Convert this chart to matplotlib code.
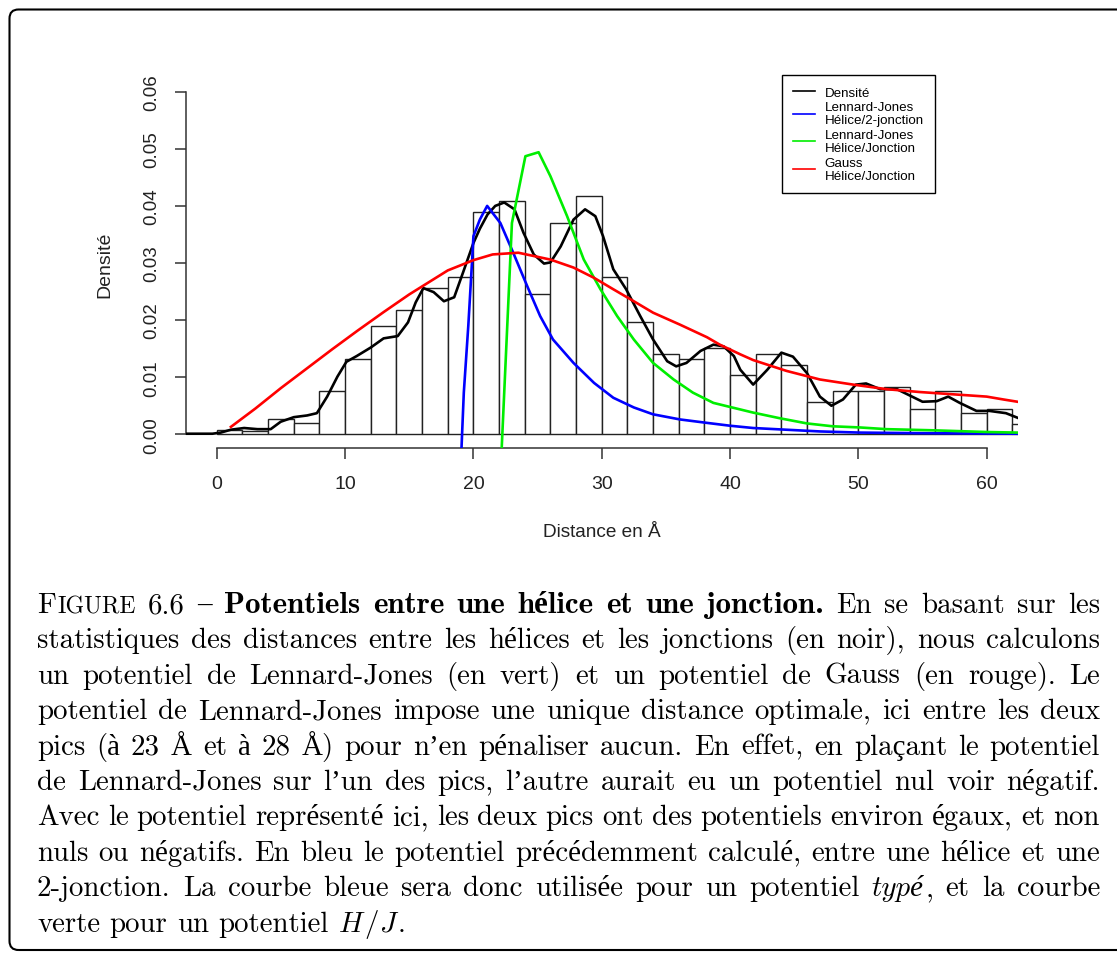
import matplotlib
matplotlib.use("Agg")
import matplotlib.pyplot as plt
from matplotlib.patches import FancyBboxPatch
from matplotlib.lines import Line2D
from matplotlib.font_manager import FontProperties
from matplotlib.transforms import IdentityTransform

# histogram of distances, bins of width 2 starting at 0
bin_left = list(range(0, 64, 2))
hist_height = [0.0008, 0.0005, 0.0027, 0.0019, 0.0076, 0.0132, 0.0189, 0.0217,
               0.0257, 0.0276, 0.0390, 0.0408, 0.0246, 0.0370, 0.0417, 0.0275,
               0.0197, 0.0141, 0.0132, 0.0152, 0.0103, 0.0141, 0.0122, 0.0057,
               0.0076, 0.0076, 0.0083, 0.0045, 0.0075, 0.0038, 0.0045, 0.0018]

# kernel density (black)
dens_x = [-2.33, -0.34, 0.31, 1.09, 2.13, 3.17, 4.2, 4.98, 6.0, 7.04, 7.8, 8.6, 9.4,
          10.1, 10.9, 12.0, 13.0, 14.1, 14.9, 15.5, 16.1, 16.9, 17.7, 18.5, 19.2,
          20.0, 20.5, 21.1, 21.7, 22.4, 23.2, 23.9, 24.7, 25.5, 26.0, 26.8, 27.8,
          28.7, 29.5, 30.1, 30.9, 31.9, 33.0, 34.0, 35.1, 35.8, 36.6, 37.7, 38.7,
          39.5, 40.3, 40.8, 41.8, 42.9, 44.0, 44.9, 46.0, 47.0, 47.9, 48.8, 49.8,
          50.6, 51.7, 53.0, 54.0, 55.0, 56.1, 57.0, 57.9, 59.2, 60.2, 61.5, 62.4]
dens_y = [0.0001, 0.0001, 0.0003, 0.0008, 0.0011, 0.0009, 0.0009, 0.0022, 0.0030,
          0.0033, 0.0037, 0.0066, 0.0101, 0.0127, 0.0137, 0.0152, 0.0168, 0.0172,
          0.0196, 0.0231, 0.0256, 0.0249, 0.0233, 0.0240, 0.0284, 0.0335, 0.0360,
          0.0385, 0.0400, 0.0406, 0.0394, 0.0353, 0.0315, 0.0299, 0.0301, 0.0329,
          0.0376, 0.0394, 0.0382, 0.0347, 0.0289, 0.0254, 0.0207, 0.0166, 0.0128,
          0.0119, 0.0125, 0.0146, 0.0157, 0.0154, 0.0137, 0.0113, 0.0087, 0.0113,
          0.0143, 0.0136, 0.0107, 0.0066, 0.0050, 0.0061, 0.0087, 0.0089, 0.0079,
          0.0079, 0.0068, 0.0057, 0.0058, 0.0066, 0.0055, 0.0041, 0.0041, 0.0037,
          0.0029]

# Lennard-Jones helix / 2-junction (blue)
lj2_x = [18.93, 19.25, 19.6, 19.9, 20.0, 20.5, 21.07, 22.1, 23.1, 24.2, 25.2, 26.2,
         27.8, 29.4, 30.9, 32.5, 34.0, 36.1, 38.2, 40.0, 41.8, 44.4, 47.0, 50.1,
         54.8, 62.4]
lj2_y = [-0.01, 0.0073, 0.0190, 0.0306, 0.0347, 0.0376, 0.0400, 0.0370, 0.0318,
         0.0259, 0.0207, 0.0166, 0.0125, 0.0090, 0.0064, 0.0047, 0.0035, 0.0026,
         0.0020, 0.0015, 0.0011, 0.0008, 0.0005, 0.0003, 0.0002, 0.0001]

# Lennard-Jones helix / junction (green)
lj_x = [22.05, 23.0, 24.05, 25.08, 26.0, 27.3, 28.6, 29.9, 31.2, 32.5, 34.0, 35.6,
        37.1, 38.7, 41.8, 43.9, 46.0, 48.0, 50.1, 52.2, 55.8, 60.0, 62.4]
lj_y = [-0.01, 0.0370, 0.0487, 0.0494, 0.0452, 0.0382, 0.0306, 0.0254, 0.0207,
        0.0166, 0.0125, 0.0096, 0.0073, 0.0055, 0.0038, 0.0028, 0.0019, 0.0014,
        0.0012, 0.0009, 0.0007, 0.0004, 0.0003]

# Gauss helix / junction (red)
gauss_x = [1.1, 3.0, 5.0, 7.0, 9.0, 11.0, 13.0, 15.0, 16.5, 18.0, 20.0, 21.5, 23.5,
           26.0, 27.8, 29.4, 30.9, 32.5, 34.0, 36.1, 38.2, 39.2, 40.8, 41.8, 44.4,
           47.0, 49.6, 52.2, 54.8, 57.4, 60.0, 61.3, 62.4]
gauss_y = [0.0013, 0.0045, 0.0081, 0.0115, 0.0149, 0.0182, 0.0214, 0.0245, 0.0266,
           0.0287, 0.0305, 0.0315, 0.0318, 0.0306, 0.0292, 0.0274, 0.0254, 0.0233,
           0.0213, 0.0192, 0.0170, 0.0157, 0.0140, 0.0130, 0.0111, 0.0096, 0.0087,
           0.0079, 0.0074, 0.0070, 0.0066, 0.0061, 0.0057]

x_ticks = [0, 10, 20, 30, 40, 50, 60]
y_ticks = [0.00, 0.01, 0.02, 0.03, 0.04, 0.05, 0.06]

legend_labels = ["Densité", "Lennard-Jones\nHélice/2-jonction",
                 "Lennard-Jones\nHélice/Jonction", "Gauss\nHélice/Jonction"]
legend_colors = ["black", "#0000ff", "#00ee00", "#ff0000"]

caption = [
    [[("F", "rm"), ("IGURE", "sc")], "6.6", "–"]
    + [[(w, "bf")] for w in "Potentiels entre une hélice et une jonction.".split()]
    + "En se basant sur les".split(),
    "statistiques des distances entre les hélices et les jonctions (en noir), nous calculons".split(),
    "un potentiel de Lennard-Jones (en vert) et un potentiel de Gauss (en rouge). Le".split(),
    "potentiel de Lennard-Jones impose une unique distance optimale, ici entre les deux".split(),
    "pics (à 23 Å et à 28 Å) pour n’en pénaliser aucun. En effet, en plaçant le potentiel".split(),
    "de Lennard-Jones sur l’un des pics, l’autre aurait eu un potentiel nul voir négatif.".split(),
    "Avec le potentiel représenté ici, les deux pics ont des potentiels environ égaux, et non".split(),
    "nuls ou négatifs. En bleu le potentiel précédemment calculé, entre une hélice et une".split(),
    "2-jonction. La courbe bleue sera donc utilisée pour un potentiel".split()
    + [[("typé", "it"), (",", "rm")], "et", "la", "courbe"],
    "verte pour un potentiel".split() + [[("H", "mi"), ("/", "rm"), ("J", "mi"), (".", "rm")]],
]

plt.rcParams["font.family"] = ["Liberation Sans", "DejaVu Sans"]
W, H = 1117, 954
fig = plt.figure(figsize=(W / 100, H / 100), dpi=100)

# rounded frame around figure + caption
frame = FancyBboxPatch((9.5, 3), 1140, 940.5, boxstyle="round,pad=0,rounding_size=9",
                       transform=IdentityTransform(), fill=False, lw=1.5, ec="black")
fig.patches.append(frame)

ax = fig.add_axes([186 / W, 1 - 449 / H, 831.5 / W, 370 / H])
ax.bar(bin_left, hist_height, width=2, align="edge", color="white",
       edgecolor="#222222", linewidth=1.0, zorder=1)
ax.plot(dens_x, dens_y, color="black", lw=1.9, zorder=3)
ax.plot(lj2_x, lj2_y, color="#0000ff", lw=1.9, zorder=3)
ax.plot(lj_x, lj_y, color="#00ee00", lw=1.9, zorder=3)
ax.plot(gauss_x, gauss_y, color="#ff0000", lw=1.9, zorder=3)

ax.set_xlim(-2.4, 62.4)
ax.set_ylim(-0.0024, 0.0624)
for s in ["top", "right"]:
    ax.spines[s].set_visible(False)
ax.spines["left"].set_bounds(0, 0.06)
ax.spines["bottom"].set_bounds(0, 60)
for s in ["left", "bottom"]:
    ax.spines[s].set_color("#333333")
    ax.spines[s].set_linewidth(1.1)

ax.set_xticks(x_ticks)
ax.set_xticklabels([str(t) for t in x_ticks], fontsize=14, color="#222222")
ax.set_yticks(y_ticks)
ax.set_yticklabels([f"{t:.2f}" for t in y_ticks], rotation=90, va="center",
                   fontsize=13.5, color="#222222")
ax.tick_params(axis="both", length=8, width=1.1, color="#333333")
ax.tick_params(axis="x", pad=11.5)
ax.tick_params(axis="y", pad=10.5)

ax.set_ylabel("Densité", fontsize=14, color="#222222")
ax.yaxis.set_label_coords((105 - 186) / 831.5, (449 - 265) / 370)
ax.yaxis.label.set_va("center")
ax.set_xlabel("Distance en Å", fontsize=13.7, color="#222222")
ax.xaxis.set_label_coords((602 - 186) / 831.5, (449 - 533) / 370)
ax.xaxis.label.set_va("center")

handles = [Line2D([], [], color=c, lw=1.2) for c in legend_colors]
leg = ax.legend(handles, legend_labels, loc="upper left",
                bbox_to_anchor=(782 / W, 1 - 76 / H), bbox_transform=fig.transFigure,
                fontsize=9.6, handlelength=1.6, handletextpad=0.75, borderpad=0.85,
                labelspacing=0.2, borderaxespad=0, fancybox=False, framealpha=1)
for t in leg.get_texts():
    t.set_linespacing(1.12)
leg.get_frame().set_edgecolor("black")
leg.get_frame().set_linewidth(1.0)

# caption, justified line by line
fs = 20.8
props = {
    "rm": FontProperties(family=["cmr10", "Liberation Serif"], size=fs),
    "sc": FontProperties(family=["cmr10", "Liberation Serif"], size=fs * 0.82),
    "bf": FontProperties(family=["cmb10", "Liberation Serif"], weight="bold", size=fs * 1.07),
    "it": FontProperties(family=["cmmi10", "Liberation Serif"], style="italic", size=fs),
    "mi": FontProperties(family=["cmmi10", "Liberation Serif"], style="italic", size=fs),
}
renderer = fig.canvas.get_renderer()


def run_width(text, style):
    w, h, d = renderer.get_text_width_height_descent(text, props[style], ismath=False)
    return w


x_left, x_right = 37, 1100
base0, step = 613, 35.4
pad = 1.5
for i, words in enumerate(caption):
    words = [[(w, "rm")] if isinstance(w, str) else w for w in words]
    widths = [sum(run_width(t, s) for t, s in runs) + pad * (len(runs) - 1) for runs in words]
    if i < len(caption) - 1:
        gap = (x_right - x_left - sum(widths)) / (len(words) - 1)
    else:
        gap = fs * 1.389 * 0.333
    y = 1 - (base0 + i * step) / H
    x = x_left
    for runs, wd in zip(words, widths):
        xx = x
        for t, s in runs:
            fig.text(xx / W, y, t, fontproperties=props[s], ha="left", va="baseline")
            xx += run_width(t, s) + pad
        x += wd + gap

fig.savefig("out.png", dpi=100)
